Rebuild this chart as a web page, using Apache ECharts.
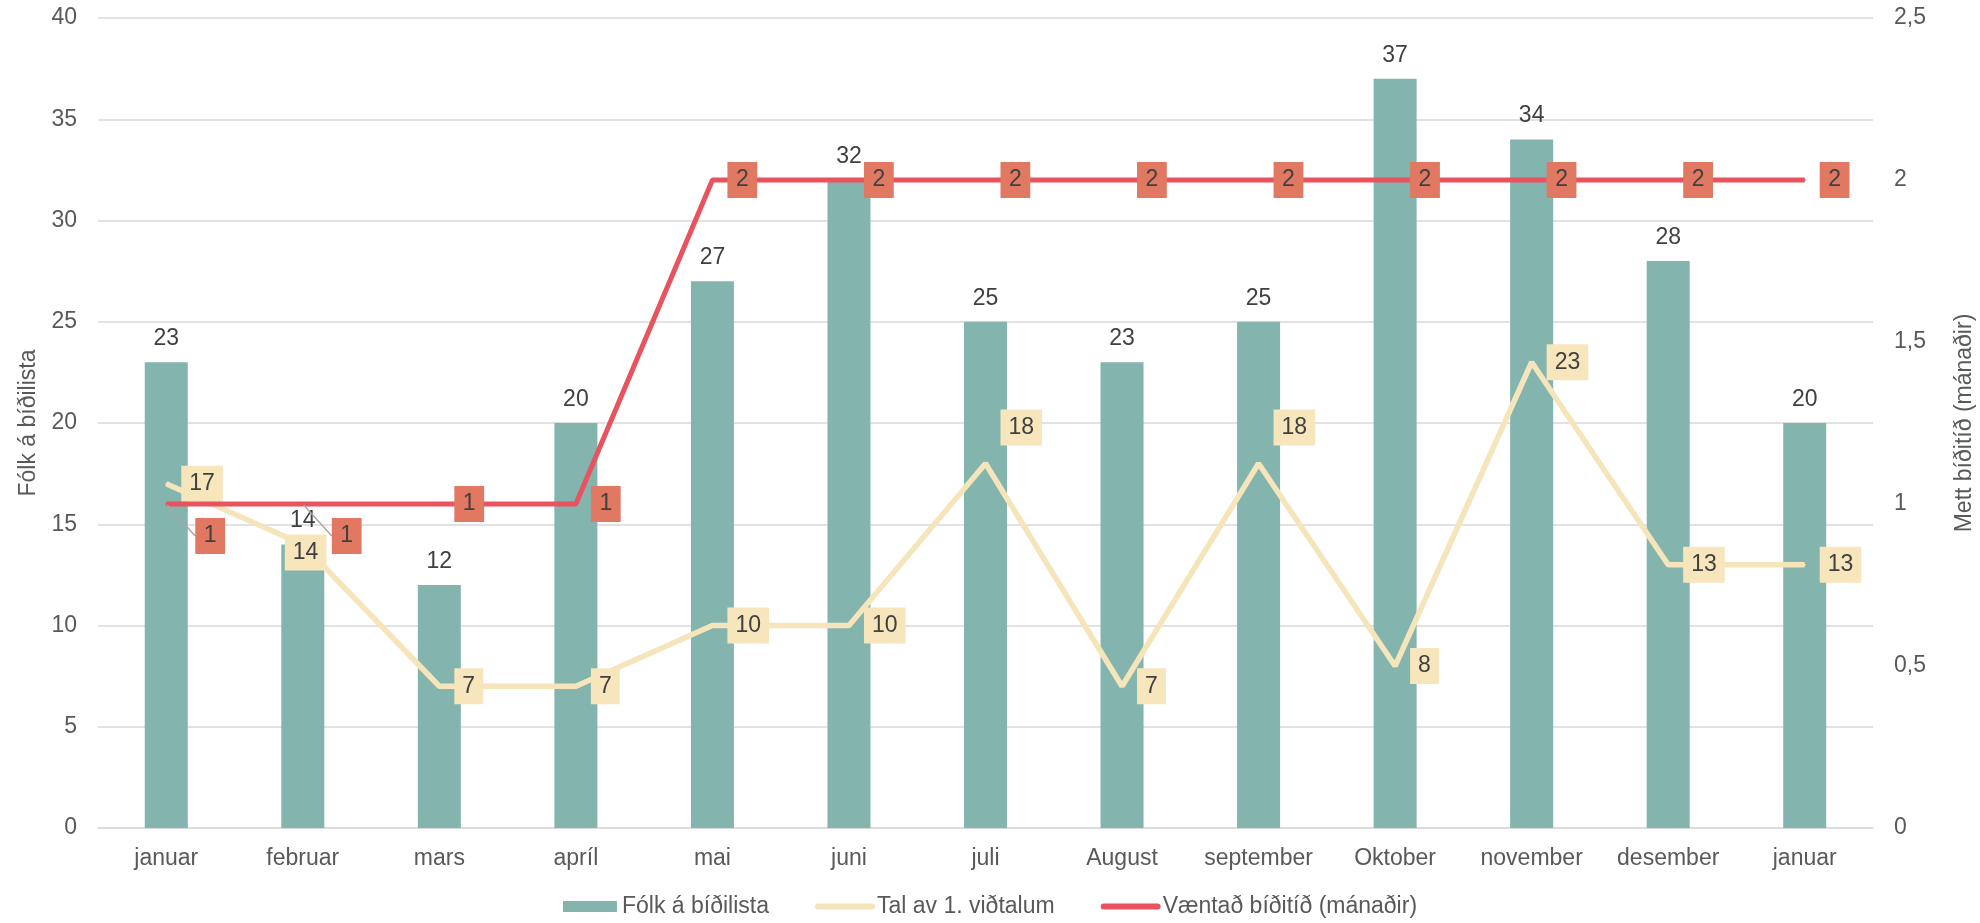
<!DOCTYPE html>
<html>
<head>
<meta charset="utf-8">
<script src="https://cdn.jsdelivr.net/npm/echarts@6/dist/echarts.min.js"></script>
<style>
  html, body { margin: 0; padding: 0; background: #fff; }
  #chart { width: 1980px; height: 923px; }
</style>
</head>
<body>
<div id="chart"></div>
<script>
var months = ['januar', 'februar', 'mars', 'apríl', 'mai', 'juni', 'juli', 'August', 'september', 'Oktober', 'november', 'desember', 'januar'];
var waitingList = [23, 14, 12, 20, 27, 32, 25, 23, 25, 37, 34, 28, 20];
var firstInterviews = [17, 14, 7, 7, 10, 10, 18, 7, 18, 8, 23, 13, 13];
var expectedWait = [1, 1, 1, 1, 2, 2, 2, 2, 2, 2, 2, 2, 2];

var FONT = "'Liberation Sans', Arial, sans-serif";
var FS = 23;

// hand-moved labels, as in the original sheet
var yellowShift = { 1: [-33, 8], 6: [0, -36], 8: [0, -36] };
var redShift = { 0: [14, 32], 1: [14, 32] };

var chartDom = document.getElementById('chart');
var myChart = echarts.init(chartDom);
var option;

option = {
  animation: false,
  textStyle: { fontFamily: FONT },
  grid: { left: 98, right: 107, top: 18, bottom: 95, outerBoundsMode: 'none' },
  legend: {
    bottom: 0,
    itemWidth: 54,
    itemHeight: 11,
    itemGap: 46,
    textStyle: { fontSize: FS, color: '#595959', fontFamily: FONT },
    data: [
      { name: 'Fólk á bíðilista', icon: 'rect' },
      { name: 'Tal av 1. viðtalum', lineStyle: { width: 6, cap: 'round' }, itemStyle: { opacity: 0 } },
      { name: 'Væntað bíðitíð (mánaðir)', lineStyle: { width: 6, cap: 'round' }, itemStyle: { opacity: 0 } }
    ]
  },
  xAxis: {
    type: 'category',
    data: months,
    axisTick: { show: false },
    axisLine: { lineStyle: { color: '#d9d9d9', width: 1.5 } },
    axisLabel: { fontSize: FS, color: '#595959', margin: 19, interval: 0 }
  },
  yAxis: [
    {
      type: 'value',
      min: 0, max: 40, interval: 5,
      name: 'Fólk á bíðilista',
      nameLocation: 'middle',
      nameGap: 57,
      nameTextStyle: { fontSize: FS, color: '#595959' },
      axisLabel: { fontSize: FS, color: '#595959', margin: 21 },
      splitLine: { lineStyle: { color: '#d9d9d9', width: 1.5 } }
    },
    {
      type: 'value',
      min: 0, max: 2.5, interval: 0.5,
      name: 'Mett bíðitíð (mánaðir)',
      nameLocation: 'middle',
      nameRotate: 90,
      nameGap: 80,
      nameTextStyle: { fontSize: FS, color: '#595959' },
      axisLabel: {
        fontSize: FS, color: '#595959', margin: 21,
        formatter: function (v) { return String(v).replace('.', ','); }
      },
      splitLine: { show: false }
    }
  ],
  series: [
    {
      name: 'Fólk á bíðilista',
      type: 'bar',
      data: waitingList,
      barWidth: '31.5%',
      itemStyle: { color: '#83b5ae' },
      label: { show: true, position: 'top', distance: 12, fontSize: FS, color: '#404040' }
    },
    {
      name: 'Tal av 1. viðtalum',
      type: 'line',
      data: firstInterviews,
      symbol: 'circle',
      symbolSize: 2,
      itemStyle: { color: '#f6e4ba' },
      lineStyle: { color: '#f6e4ba', width: 5.5 },
      label: {
        show: true, position: 'right', distance: 14,
        fontSize: FS, color: '#404040',
        backgroundColor: '#f7e5bc', padding: [7, 8, 6, 8]
      },
      labelLayout: function (p) {
        var s = yellowShift[p.dataIndex];
        return s ? { dx: s[0], dy: s[1] } : {};
      },
      z: 3
    },
    {
      name: 'Væntað bíðitíð (mánaðir)',
      type: 'line',
      yAxisIndex: 1,
      data: expectedWait.map(function (v, i) {
        return redShift[i] ? { value: v, labelLine: { show: true } } : v;
      }),
      symbol: 'circle',
      symbolSize: 2,
      itemStyle: { color: '#e8535f' },
      lineStyle: { color: '#e8535f', width: 5 },
      label: {
        show: true, position: 'right', distance: 14,
        fontSize: FS, color: '#404040',
        backgroundColor: '#e07862', padding: [7, 8.5, 6, 8.5]
      },
      labelLine: { show: false, lineStyle: { color: '#a6a6a6', width: 1.5 } },
      labelLayout: function (p) {
        var s = redShift[p.dataIndex];
        return s ? { dx: s[0], dy: s[1] } : {};
      },
      z: 4
    }
  ]
};

option && myChart.setOption(option);
</script>
</body>
</html>
